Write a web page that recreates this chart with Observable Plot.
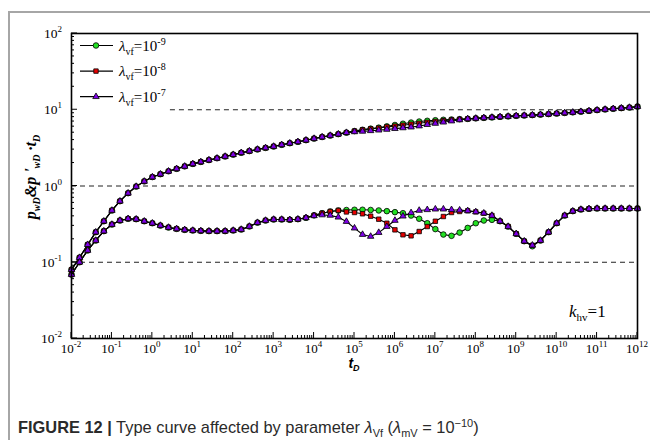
<!DOCTYPE html>
<html><head><meta charset="utf-8">
<script src="https://cdn.jsdelivr.net/npm/d3@7"></script>
<script src="https://cdn.jsdelivr.net/npm/@observablehq/plot@0.6"></script>
<style>
body{margin:0;background:#fff;}
#wrap{position:relative;width:650px;height:440px;overflow:hidden;background:#fff;}
#border{position:absolute;left:8px;top:11px;width:700px;height:600px;border:2px solid #a6a6a6;box-sizing:border-box;}
#chart{position:absolute;left:0;top:0;}
#caption{position:absolute;left:18px;top:417px;font-family:"Liberation Sans Narrow","Liberation Sans",Arial,sans-serif;font-size:16.4px;color:#2a2a2a;white-space:nowrap;line-height:20px;}
#caption sub,#caption sup{font-size:11px;line-height:0;}
</style></head>
<body>
<div id="wrap"><div id="border"></div><div id="chart"></div>
<div id="caption"><b>FIGURE 12 |</b> Type curve affected by parameter <i>λ</i><sub>Vf</sub> (<i>λ</i><sub>mV</sub> = 10<sup>−10</sup>)</div>
</div>
<script>
// dimensionless time t_D (5 samples per decade)
const tD = [1e-2,1.58e-2,2.51e-2,3.98e-2,6.31e-2, 1e-1,1.58e-1,2.51e-1,3.98e-1,6.31e-1,
  1,1.58,2.51,3.98,6.31, 1e1,1.58e1,2.51e1,3.98e1,6.31e1, 1e2,1.58e2,2.51e2,3.98e2,6.31e2,
  1e3,1.58e3,2.51e3,3.98e3,6.31e3, 1e4,1.58e4,2.51e4,3.98e4,6.31e4, 1e5,1.58e5,2.51e5,3.98e5,6.31e5,
  1e6,1.58e6,2.51e6,3.98e6,6.31e6, 1e7,1.58e7,2.51e7,3.98e7,6.31e7, 1e8,1.58e8,2.51e8,3.98e8,6.31e8,
  1e9,1.58e9,2.51e9,3.98e9,6.31e9, 1e10,1.58e10,2.51e10,3.98e10,6.31e10, 1e11,1.58e11,2.51e11,3.98e11,6.31e11, 1e12];

// pressure p_wD
const pG = [0.080,0.115,0.170,0.248,0.345, 0.478,0.632,0.805,0.984,1.15, 1.31,1.43,1.56,1.68,1.81,
  1.95,2.07,2.19,2.31,2.44, 2.58,2.73,2.87,3.02,3.16, 3.30,3.47,3.64,3.80,3.99, 4.19,4.39,4.59,4.79,5.01,
  5.25,5.46,5.65,5.82,6.05, 6.31,6.56,6.79,7.00,7.16, 7.29,7.38,7.45,7.52,
  7.59,7.71,7.83,7.94,8.07, 8.18,8.32,8.41,8.51,8.63, 8.77,8.91,9.08,9.25,9.44, 9.66,9.89,10.1,10.3,10.5, 10.7,11.0];
const pR = [0.080,0.115,0.170,0.248,0.345, 0.478,0.632,0.805,0.984,1.15, 1.31,1.43,1.56,1.68,1.81,
  1.95,2.07,2.19,2.31,2.44, 2.58,2.73,2.87,3.02,3.16, 3.30,3.47,3.64,3.80,3.99, 4.19,4.39,4.59,4.79,5.01,
  5.25,5.46,5.62,5.75,5.96, 6.10,6.27,6.46,6.64,6.84, 7.03,7.21,7.36,7.50,
  7.59,7.71,7.83,7.94,8.07, 8.18,8.32,8.41,8.51,8.63, 8.77,8.91,9.08,9.25,9.44, 9.66,9.89,10.1,10.3,10.5, 10.7,11.0];
const pP = [0.080,0.115,0.170,0.248,0.345, 0.478,0.632,0.805,0.984,1.15, 1.31,1.43,1.56,1.68,1.81,
  1.95,2.07,2.19,2.31,2.44, 2.58,2.73,2.87,3.02,3.16, 3.30,3.47,3.64,3.80,3.99, 4.19,4.39,4.59,4.79,5.01,
  5.13,5.21,5.30,5.40,5.52, 5.65,5.78,5.92,6.12,6.38, 6.61,6.87,7.11,7.35,
  7.59,7.71,7.83,7.94,8.07, 8.18,8.32,8.41,8.51,8.63, 8.77,8.91,9.08,9.25,9.44, 9.66,9.89,10.1,10.3,10.5, 10.7,11.0];

// derivative p'_wD * t_D
const dG = [0.069,0.100,0.143,0.193,0.256, 0.313,0.353,0.372,0.367,0.345, 0.325,0.303,0.286,0.274,0.266,
  0.261,0.258,0.256,0.256,0.256, 0.261,0.269,0.295,0.331,0.353, 0.364,0.364,0.361,0.367,0.383,
  0.412,0.440,0.463,0.478,0.484, 0.488,0.488,0.485,0.478,0.468, 0.454,0.440,0.410,0.372,0.325,
  0.272,0.231,0.222,0.245,0.282, 0.325,0.353,0.360,
  0.345,0.294,0.236,0.189,0.162, 0.193,0.248,0.325,0.410,0.468, 0.492,0.502,0.507,0.507,0.507, 0.507,0.507,0.507];
const dR = [0.069,0.100,0.143,0.193,0.256, 0.313,0.353,0.372,0.367,0.345, 0.325,0.303,0.286,0.274,0.266,
  0.261,0.258,0.256,0.256,0.256, 0.261,0.269,0.295,0.331,0.353, 0.364,0.364,0.361,0.367,0.383,
  0.412,0.440,0.463,0.478,0.457, 0.449,0.432,0.402,0.367,0.325, 0.266,0.229,0.222,0.253,0.294,
  0.345,0.398,0.449,0.463,0.473, 0.458,0.440,0.410,
  0.345,0.294,0.236,0.189,0.167, 0.193,0.248,0.325,0.410,0.468, 0.492,0.502,0.507,0.507,0.507, 0.507,0.507,0.507];
const dP = [0.069,0.100,0.143,0.193,0.256, 0.313,0.353,0.372,0.367,0.345, 0.325,0.303,0.286,0.274,0.266,
  0.261,0.258,0.256,0.256,0.256, 0.261,0.269,0.295,0.331,0.353, 0.364,0.364,0.361,0.367,0.383,
  0.407,0.417,0.412,0.390,0.342, 0.280,0.231,0.218,0.245,0.294, 0.353,0.402,0.445,0.478,0.488,
  0.497,0.497,0.488,0.482,0.473, 0.458,0.440,0.410,
  0.345,0.294,0.236,0.189,0.167, 0.193,0.248,0.325,0.410,0.468, 0.492,0.502,0.507,0.507,0.507, 0.507,0.507,0.507];

const seriesExp = ["-9", "-8", "-7"];
const seriesFill = ["#22e022", "#e60000", "#7f00e8"];
const seriesSymbol = ["circle", "square", "triangle"];
const seriesR = [2.8, 2.5, 2.4];
const seriesP = [pG, pR, pP];
const seriesD = [dG, dR, dP];

const xMajor = [1e-2,1e-1,1,1e1,1e2,1e3,1e4,1e5,1e6,1e7,1e8,1e9,1e10,1e11,1e12];
const yMajor = [1e-2,1e-1,1,1e1,1e2];
const dashY = [10, 1, 0.1];
const dashFrom = [2.8, 1e-2, 1e-2];

const minorOf = majors => majors.slice(0, -1).flatMap(m => [2,3,4,5,6,7,8,9].map(k => k * m));
const expOf = v => String(Math.round(Math.log10(v)));

const rows = [];
seriesP.forEach((p, s) => tD.forEach((t, i) => {
  rows.push({t, v: p[i], s, k: "p"});
  rows.push({t, v: seriesD[s][i], s, k: "d"});
}));
const dashes = dashY.map((y, i) => ({y, x1: dashFrom[i], x2: 1e12}));

const W = 650, H = 400, ML = 71, MR = 13, MT = 33, MB = H - 338;
const serif = "'Liberation Serif','Times New Roman',serif";

const chart = Plot.plot({
  width: W, height: H, marginLeft: ML, marginRight: MR, marginTop: MT, marginBottom: MB,
  x: {type: "log", domain: [1e-2, 1e12], axis: null},
  y: {type: "log", domain: [1e-2, 1e2], axis: null},
  style: {fontFamily: serif, fontSize: "13.5px", color: "#000", background: "transparent"},
  marks: [
    Plot.ruleY(dashes, {y: "y", x1: "x1", x2: "x2", stroke: "#222", strokeWidth: 1, strokeDasharray: "5,4"}),
    Plot.line(rows, {x: "t", y: "v", z: d => d.s + d.k, stroke: "#000", strokeWidth: 1.1}),
    ...seriesFill.map((fill, s) => Plot.dot(rows.filter(d => d.s === s), {
      x: "t", y: "v", symbol: seriesSymbol[s], r: seriesR[s], fill, stroke: "#000", strokeWidth: 0.8
    })),
    Plot.frame({stroke: "#000", strokeWidth: 1.6})
  ]
});
document.getElementById("chart").appendChild(chart);

const svg = d3.select(chart);
const sxo = chart.scale("x"), syo = chart.scale("y");
const sx = d3.scaleLog(sxo.domain, sxo.range);
const sy = d3.scaleLog(syo.domain, syo.range);
const x0 = sx.range()[0], y0 = sy.range()[0];

function rich(textSel, parts) {
  parts.forEach(p => {
    const t = textSel.append("tspan").text(p.t);
    if (p.size) t.attr("font-size", p.size);
    if (p.dy) t.attr("dy", p.dy);
    if (p.italic) t.attr("font-style", "italic");
  });
}

// axes (inward ticks on bottom and left)
const ax = svg.append("g").attr("stroke", "#000").attr("stroke-width", 1);
xMajor.forEach(v => ax.append("line").attr("x1", sx(v)).attr("x2", sx(v)).attr("y1", y0).attr("y2", y0 - 6));
minorOf(xMajor).forEach(v => ax.append("line").attr("x1", sx(v)).attr("x2", sx(v)).attr("y1", y0).attr("y2", y0 - 3));
yMajor.forEach(v => ax.append("line").attr("y1", sy(v)).attr("y2", sy(v)).attr("x1", x0).attr("x2", x0 + 6));
minorOf(yMajor).forEach(v => ax.append("line").attr("y1", sy(v)).attr("y2", sy(v)).attr("x1", x0).attr("x2", x0 + 3));

const labels = svg.append("g").attr("font-family", serif).attr("fill", "#000");
xMajor.forEach(v => {
  const t = labels.append("text").attr("x", sx(v)).attr("y", y0 + 15).attr("text-anchor", "middle").attr("font-size", 13);
  rich(t, [{t: "10"}, {t: expOf(v), size: 9, dy: -6}]);
});
yMajor.forEach(v => {
  const t = labels.append("text").attr("x", x0 - 9).attr("y", sy(v) + 5).attr("text-anchor", "end").attr("font-size", 13.5);
  rich(t, [{t: "10"}, {t: expOf(v), size: 9, dy: -6}]);
});

// legend
const symMap = {circle: d3.symbolCircle, square: d3.symbolSquare, triangle: d3.symbolTriangle};
const lg = svg.append("g").attr("font-family", serif).attr("text-anchor", "start");
seriesExp.forEach((ex, i) => {
  const cy = 45.5 + i * 25.6;
  lg.append("line").attr("x1", 80).attr("x2", 113).attr("y1", cy).attr("y2", cy).attr("stroke", "#000").attr("stroke-width", 1.2);
  const r = seriesR[i];
  lg.append("path").attr("transform", `translate(96,${cy})`)
    .attr("d", d3.symbol(symMap[seriesSymbol[i]], r * r * Math.PI)())
    .attr("fill", seriesFill[i]).attr("stroke", "#000").attr("stroke-width", 0.8);
  const tx = lg.append("text").attr("x", 119).attr("y", cy + 5).attr("font-size", 15).attr("text-anchor", "start");
  rich(tx, [{t: "λ", italic: true}, {t: "vf", size: 10, dy: 4}, {t: "=10", dy: -4}, {t: ex, size: 10, dy: -6}]);
});

// k_hv = 1
const kt = svg.append("text").attr("x", 569).attr("y", 317).attr("font-family", serif).attr("font-size", 17).attr("text-anchor", "start");
rich(kt, [{t: "k", italic: true}, {t: "hv", size: 11, dy: 4}, {t: "=1", dy: -4}]);

// axis titles
const yl = svg.append("text").attr("transform", "translate(36,177) rotate(-90)").attr("text-anchor", "middle")
  .attr("font-family", serif).attr("font-weight", "bold").attr("font-style", "italic").attr("font-size", 16);
rich(yl, [{t: "p"}, {t: "wD", size: 10, dy: 4}, {t: "&p '", dy: -4}, {t: "wD", size: 10, dy: 4}, {t: " ·t", dy: -4}, {t: "D", size: 10, dy: 4}]);

const xl = svg.append("text").attr("x", 354).attr("y", 368).attr("text-anchor", "middle")
  .attr("font-family", "'Liberation Sans',Arial,sans-serif").attr("font-weight", "bold").attr("font-style", "italic").attr("font-size", 14);
rich(xl, [{t: "t"}, {t: "D", size: 9, dy: 3}]);
</script>
</body></html>
